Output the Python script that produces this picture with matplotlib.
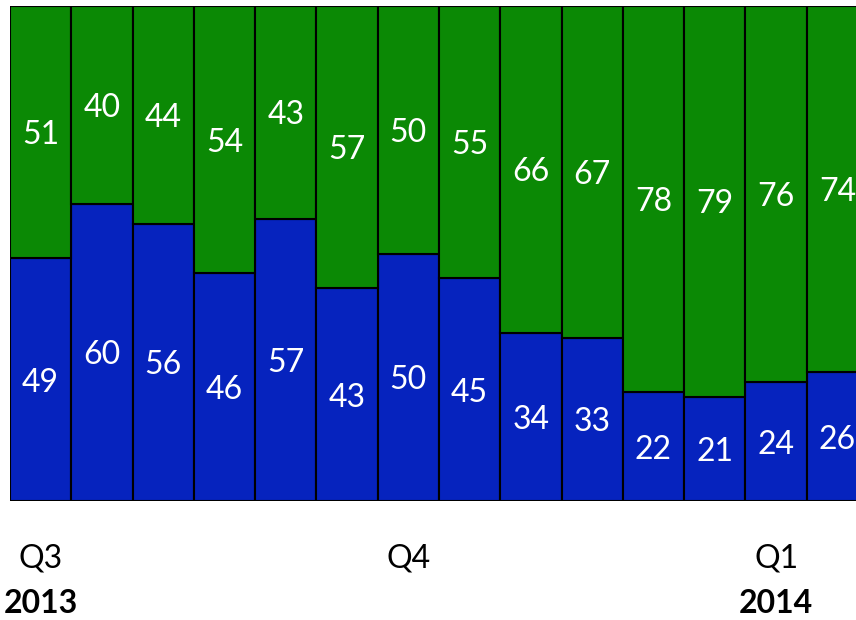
import matplotlib.pyplot as plt
import numpy as np

plt.rcParams['font.family'] = ['Lato', 'DejaVu Sans']

# blue (bottom) and green (top) shares per bar
blue = [49, 60, 56, 46, 57, 43, 50, 45, 34, 33, 22, 21, 24, 26]
green = [51, 40, 44, 54, 43, 57, 50, 55, 66, 67, 78, 79, 76, 74]
quarters = {0: ("Q3", "2013"), 6: ("Q4", ""), 12: ("Q1", "2014")}

blue_c = "#0623BE"
green_c = "#0B8905"

fig = plt.figure(figsize=(8.56, 6.2), dpi=100)
# right edge of the plot runs past the picture, as in the original
ax = fig.add_axes([10 / 856, 1 - 501 / 620, 858 / 856, 495 / 620])

x = np.arange(len(blue))
ax.bar(x, blue, width=1.0, color=blue_c, edgecolor="black", linewidth=1.5)
ax.bar(x, green, width=1.0, bottom=blue, color=green_c, edgecolor="black", linewidth=1.5)

for i in x:
    ax.text(i, blue[i] / 2 - 0.6, str(blue[i]), ha="center", va="center",
            color="white", fontsize=23)
    ax.text(i, blue[i] + green[i] / 2 - 0.6, str(green[i]), ha="center", va="center",
            color="white", fontsize=23)

ax.set_xlim(-0.5, len(blue) - 0.5)
ax.set_ylim(0, 100)
ax.axis("off")

for i, (q, yr) in quarters.items():
    ax.text(i, -11.7, q, ha="center", va="center", fontsize=23, color="black")
    if yr:
        ax.text(i, -20.8, yr, ha="center", va="center", fontsize=23,
                fontweight="bold", color="black")

fig.savefig("out.png", dpi=100)
